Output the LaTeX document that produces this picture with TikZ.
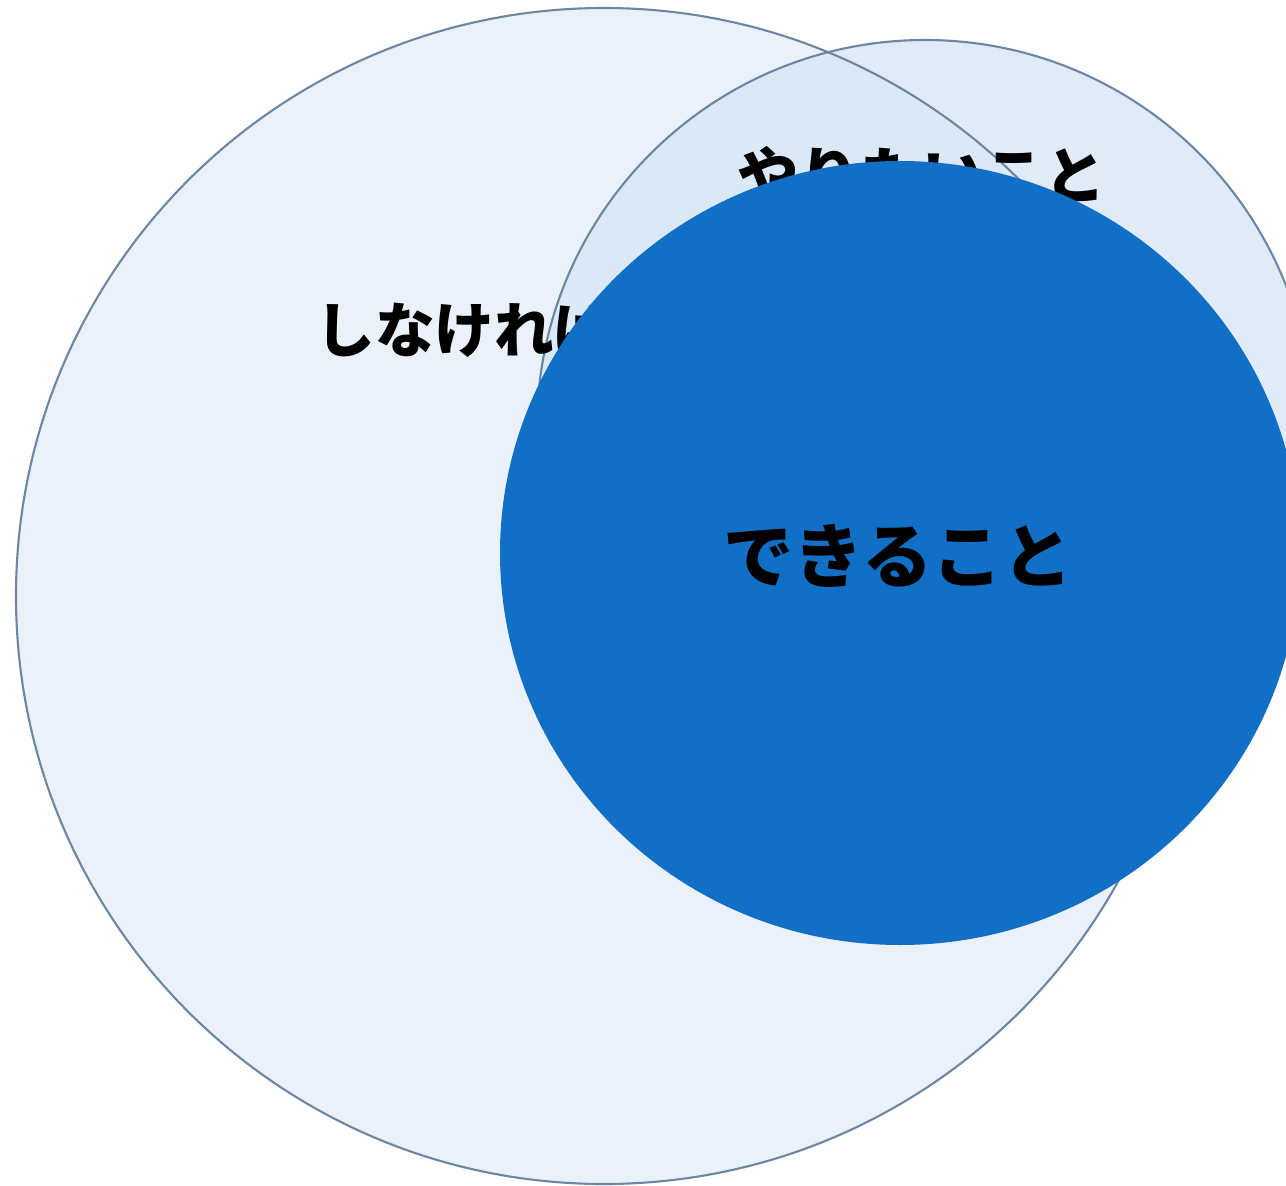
\documentclass[tikz,border=0pt]{standalone}
\usepackage{fontspec}
\newfontfamily\jpfont{Noto Sans CJK JP}
\begin{document}
\begin{tikzpicture}[x=0.02cm, y=-0.02cm]
    \definecolor{edgeColour}{HTML}{6C87A3}
    \definecolor{fillColourA}{HTML}{E3EDF8}
    \definecolor{fillColourB}{HTML}{D6E5F5}
    \definecolor{fillColourC}{HTML}{1170C6}

    \tikzset{
        bubble/.style={fill opacity=0.75},
        rim/.style={draw=edgeColour, line width=1.2pt},
        label/.style={font=\jpfont\bfseries, text=black, inner sep=0pt}
    }

    % Page
    \fill[white] (0,0) rectangle (1286,1186);
    \useasboundingbox (0,0) rectangle (1286,1186);

    % Must-do and want-to circles
    \fill[bubble, fill=fillColourA] (604,596) circle (588);
    \fill[bubble, fill=fillColourB] (925,428) circle (388);
    \draw[rim] (604,596) circle (588);
    \draw[rim] (925,428) circle (388);

    % Labels under the top circle
    \node[label, font=\jpfont\bfseries\fontsize{34pt}{34pt}\selectfont, anchor=west] (mustText) at (315,330) {しなければならないこと};
    \node[label, font=\jpfont\bfseries\fontsize{35pt}{35pt}\selectfont] (wantText) at (922,175) {やりたいこと};

    % Can-do circle
    \fill[fillColourC] (900,553) ellipse (400 and 392);
    \node[label, font=\jpfont\bfseries\fontsize{40pt}{40pt}\selectfont] (canText) at (898,556) {できること};

\end{tikzpicture}
\end{document}
